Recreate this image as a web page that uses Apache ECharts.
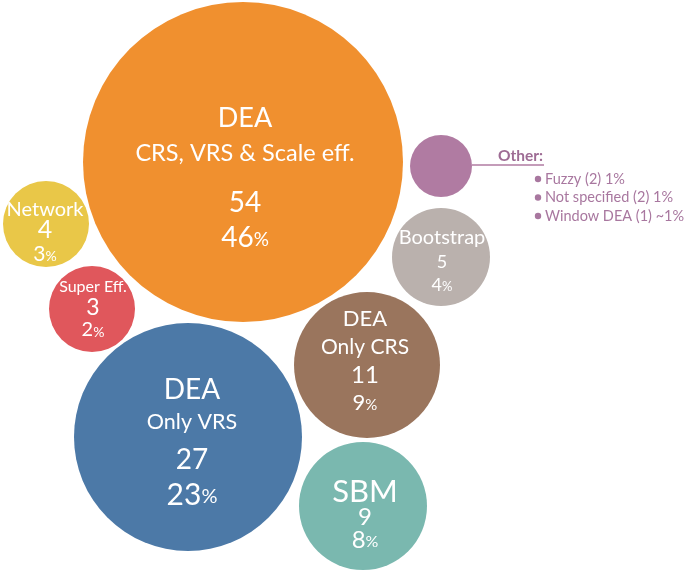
<!DOCTYPE html>
<html>
<head>
<meta charset="utf-8">
<script src="https://cdn.jsdelivr.net/npm/echarts@6/dist/echarts.min.js"></script>
<style>html,body{margin:0;padding:0;background:#fff}#c{width:685px;height:574px}</style>
</head>
<body>
<div id="c"></div>
<script>
// ---- data ----
const titles = ['DEA', 'DEA', 'DEA', 'SBM', 'Bootstrap', 'Network', 'Super Eff.', 'Other'];
const subtitles = ['CRS, VRS & Scale eff.', 'Only VRS', 'Only CRS', '', '', '', '', ''];
const counts = [54, 27, 11, 9, 5, 4, 3, 5];
const percents = [46, 23, 9, 8, 4, 3, 2, 4];
const otherNames = ['Fuzzy', 'Not specified', 'Window DEA'];
const otherCounts = [2, 2, 1];
const otherPercents = ['1%', '1%', '~1%'];

// ---- layout (packed bubble positions in layout units, and radii) ----
const bubbleX = [243, 188, 367, 363, 441, 46, 92, 441];
const bubbleY = [162, 437, 365, 506, 257, 224, 309, 166];
const bubbleR = [160, 114, 73, 64, 49, 43, 43, 31];
const colors = ['#F0902F', '#4C79A7', '#9A755D', '#7AB8AF', '#BAB1AD', '#E9C748', '#E0575C', '#B07BA2'];

const FONT = 'Lato';
const labelCfg = [
  {t:[27,35], s:[23.5,35], g:15, n:[28,35], p:[28,19,35], off:[2,16]},
  {t:[28,30], s:[21.5,34], g:0,  n:[28,42], p:[30,20,28], off:[4,5]},
  {t:[22,28], s:[21,28], g:0,  n:[24,28], p:[22,15,28], off:[-2,-4]},
  {t:[31,27], s:null,    g:0,  n:[24,23], p:[24,16,23], off:[2,9]},
  {t:[20,25], s:null,    g:0,  n:[18,23], p:[18,13,23], off:[1,4]},
  {t:[20,18], s:null,    g:0,  n:[25,22], p:[21,14,26], off:[-1,10]},
  {t:[16,20], s:null,    g:0,  n:[23,22], p:[20,14,22], off:[1,0]}
];

const data = titles.map((name, i) => {
  const item = {
    name: name,
    value: [bubbleX[i], bubbleY[i], counts[i], percents[i]],
    symbolSize: bubbleR[i] * 2,
    itemStyle: { color: colors[i], opacity: 1 }
  };
  const c = labelCfg[i];
  if (!c) {
    item.label = { show: false };
    return item;
  }
  const rich = {
    t: { fontSize: c.t[0], lineHeight: c.t[1], color: '#fff', fontFamily: FONT },
    n: { fontSize: c.n[0], lineHeight: c.n[1], color: '#fff', fontFamily: FONT },
    pn: { fontSize: c.p[0], lineHeight: c.p[2], color: '#fff', fontFamily: FONT },
    pp: { fontSize: c.p[1], lineHeight: c.p[2], color: '#fff', fontFamily: FONT, padding: [4, 0, 0, 0] }
  };
  let txt = '{t|' + name + '}';
  if (c.s && subtitles[i]) {
    rich.s = { fontSize: c.s[0], lineHeight: c.s[1], color: '#fff', fontFamily: FONT };
    txt += '\n{s|' + subtitles[i] + '}';
  }
  if (c.g) {
    rich.g = { fontSize: 2, lineHeight: c.g };
    txt += '\n{g| }';
  }
  txt += '\n{n|' + counts[i] + '}\n{pn|' + percents[i] + '}{pp|%}';
  item.label = {
    show: true, position: 'inside', offset: c.off,
    formatter: txt, rich: rich, align: 'center'
  };
  return item;
});

const otherLines = otherNames.map((n, i) => n + ' (' + otherCounts[i] + ') ' + otherPercents[i]);

const chart = echarts.init(document.getElementById('c'));
const TXT = '#A8779F';
const graphics = [
  { type: 'line', shape: { x1: 472, y1: 165, x2: 544, y2: 165 }, style: { stroke: '#B07BA2', lineWidth: 1.5 } },
  { type: 'text', x: 498, y: 156, style: { text: 'Other:', fill: '#9E6C94', font: 'bold 15.5px "' + FONT + '"', textVerticalAlign: 'middle' } }
];
otherLines.forEach((t, i) => {
  const y = 179 + i * 18.5;
  graphics.push({ type: 'circle', shape: { cx: 538, cy: y, r: 3.2 }, style: { fill: TXT } });
  graphics.push({ type: 'text', x: 545, y: y, style: { text: t, fill: TXT, font: '14.5px "' + FONT + '"', textVerticalAlign: 'middle' } });
});

chart.setOption({
  animation: false,
  grid: { left: 0, right: 0, top: 0, bottom: 0 },
  xAxis: { type: 'value', min: 0, max: 685, show: false },
  yAxis: { type: 'value', min: 0, max: 574, inverse: true, show: false },
  series: [{
    type: 'scatter',
    symbol: 'circle',
    data: data,
    itemStyle: { opacity: 1 },
    emphasis: { disabled: true }
  }],
  graphic: graphics
});
</script>
</body>
</html>
